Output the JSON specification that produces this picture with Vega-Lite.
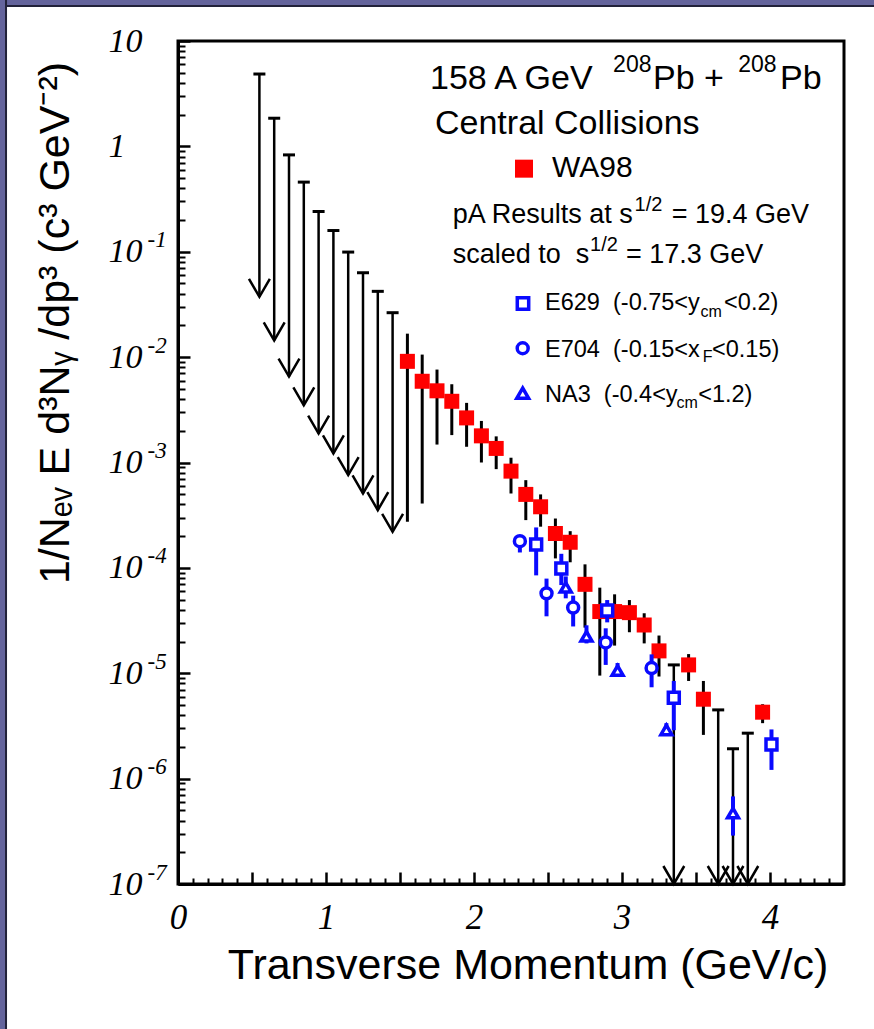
{
"$schema":"https://vega.github.io/schema/vega-lite/v6.json",
"width":666,"height":843,
"autosize":{"type":"none"},
"padding":{"left":178,"top":41,"right":30,"bottom":145},
"background":"white",
"config":{"view":{"stroke":"black","strokeWidth":3},"axis":{"grid":false,"zindex":1},"font":"Liberation Sans"},
"datasets":{
"one":[{}],
"ul":[{"x":0.55,"top":4.86,"tip":0.0374},{"x":0.65,"top":1.85,"tip":0.0144},{"x":0.75,"top":0.83,"tip":0.00653},{"x":0.85,"top":0.458,"tip":0.00349},{"x":0.95,"top":0.241,"tip":0.00188},{"x":1.05,"top":0.159,"tip":0.00122},{"x":1.15,"top":0.0993,"tip":0.000759},{"x":1.25,"top":0.0632,"tip":0.000508},{"x":1.35,"top":0.0421,"tip":0.000353},{"x":1.45,"top":0.0264,"tip":0.00022},{"x":3.35,"top":1.2e-5,"tip":1e-7},{"x":3.65,"top":4.49e-6,"tip":1e-7},{"x":3.75,"top":1.92e-6,"tip":1e-7},{"x":3.85,"top":2.7e-6,"tip":1e-7}],
"wa98":[{"x":1.55,"y":0.00912,"lo":0.000274,"hi":0.0167},{"x":1.65,"y":0.0059,"lo":0.000408,"hi":0.01057},{"x":1.75,"y":0.00479,"lo":0.00148,"hi":0.00762},{"x":1.85,"y":0.00381,"lo":0.00182,"hi":0.00553},{"x":1.95,"y":0.00265,"lo":0.00141,"hi":0.00368},{"x":2.05,"y":0.00179,"lo":0.001,"hi":0.00248},{"x":2.15,"y":0.00136,"lo":0.000865,"hi":0.00177},{"x":2.25,"y":0.000828,"lo":0.000508,"hi":0.00111},{"x":2.35,"y":0.000498,"lo":0.000284,"hi":0.00068},{"x":2.45,"y":0.00038,"lo":0.000246,"hi":0.000498},{"x":2.55,"y":0.000212,"lo":0.000123,"hi":0.000294},{"x":2.65,"y":0.000175,"lo":0.000113,"hi":0.000223},{"x":2.75,"y":6.98e-5,"lo":2.71e-5,"hi":0.000108},{"x":2.85,"y":3.85e-5,"lo":9.5e-6,"hi":6.49e-5},{"x":2.95,"y":3.85e-5,"lo":1.83e-5,"hi":5.61e-5},{"x":3.05,"y":3.76e-5,"lo":2.45e-5,"hi":4.95e-5},{"x":3.15,"y":2.87e-5,"lo":1.92e-5,"hi":3.71e-5},{"x":3.25,"y":1.63e-5,"lo":9.31e-6,"hi":2.28e-5},{"x":3.45,"y":1.2e-5,"lo":8.45e-6,"hi":1.52e-5},{"x":3.55,"y":5.67e-6,"lo":2.6e-6,"hi":8.45e-6},{"x":3.95,"y":4.27e-6,"lo":3.36e-6,"hi":5.08e-6}],
"pa":[{"exp":"E704","x":2.31,"y":1.79e-4,"lo":1.4e-4,"hi":2.0e-4},{"exp":"E629","x":2.42,"y":1.67e-4,"lo":8.49e-5,"hi":2.42e-4},{"exp":"E704","x":2.49,"y":5.73e-5,"lo":3.47e-5,"hi":7.91e-5},{"exp":"E629","x":2.59,"y":9.88e-5,"lo":6.87e-5,"hi":1.36e-4},{"exp":"NA3","x":2.62,"y":6.53e-5,"lo":5.14e-5,"hi":8.3e-5},{"exp":"E704","x":2.67,"y":4.2e-5,"lo":2.78e-5,"hi":5.45e-5},{"exp":"NA3","x":2.76,"y":2.24e-5,"lo":1.92e-5,"hi":2.85e-5},{"exp":"E629","x":2.9,"y":3.94e-5,"lo":3.04e-5,"hi":4.95e-5},{"exp":"E704","x":2.89,"y":1.96e-5,"lo":1.2e-5,"hi":2.67e-5},{"exp":"NA3","x":2.97,"y":1.06e-5,"lo":9.4e-6,"hi":1.25e-5},{"exp":"E704","x":3.2,"y":1.12e-5,"lo":7.36e-6,"hi":1.51e-5},{"exp":"E629","x":3.35,"y":5.86e-6,"lo":2.88e-6,"hi":8.45e-6},{"exp":"NA3","x":3.3,"y":2.9e-6,"lo":2.58e-6,"hi":3.36e-6},{"exp":"NA3","x":3.75,"y":4.71e-7,"lo":2.88e-7,"hi":6.78e-7},{"exp":"E629","x":4.01,"y":2.11e-6,"lo":1.21e-6,"hi":2.93e-6}]
},
"layer":[
{"data":{"name":"one"},"mark":{"type":"rect","fill":"#64649c","stroke":"#22223a","strokeWidth":2,"clip":false},
 "encoding":{"x":{"datum":-1.3,"type":"quantitative","axis":null},"x2":{"datum":4.9},"y":{"datum":40,"type":"quantitative","axis":null},"y2":{"datum":21.5}}},
{"data":{"name":"one"},"mark":{"type":"rect","fill":"#64649c","stroke":"#22223a","strokeWidth":2,"clip":false},
 "encoding":{"x":{"datum":-1.3,"type":"quantitative","axis":null},"x2":{"datum":-1.162},"y":{"datum":40,"type":"quantitative","axis":null},"y2":{"datum":1e-9}}},
{"data":{"name":"wa98"},"mark":{"type":"point","opacity":0},
 "encoding":{"x":{"field":"x","type":"quantitative","axis":null},
  "y":{"field":"y","type":"quantitative","axis":{"orient":"left","values":[1e-7,1e-6,1e-5,1e-4,0.001,0.01,0.1],"ticks":false,"tickSize":0,"domain":false,"labelExpr":"'-' + (-round(log(datum.value)/LN10))","labelFont":"Liberation Serif","labelFontStyle":"italic","labelFontSize":23,"labelColor":"black","labelAlign":"left","labelBaseline":"middle","labelPadding":31,"labelOffset":-12,"labelOverlap":false,"labelFlush":false,"title":null,"grid":false}}}},
{"data":{"name":"wa98"},"mark":{"type":"rule","color":"black","strokeWidth":3},
 "encoding":{
  "x":{"field":"x","type":"quantitative","scale":{"domain":[0,4.5],"nice":false,"zero":false},
   "axis":{"orient":"bottom","values":[0.1,0.2,0.3,0.4,0.6,0.7,0.8,0.9,1.1,1.2,1.3,1.4,1.6,1.7,1.8,1.9,2.1,2.2,2.3,2.4,2.6,2.7,2.8,2.9,3.1,3.2,3.3,3.4,3.6,3.7,3.8,3.9,4.1,4.2,4.3,4.4],"tickSize":-6,"tickWidth":2,"tickColor":"black","labels":false,"domain":false,"title":null,"grid":false}},
  "y":{"field":"lo","type":"quantitative","scale":{"type":"log","domain":[1e-7,10],"nice":false},
   "axis":{"orient":"left","values":[2e-7,3e-7,4e-7,5e-7,6e-7,7e-7,8e-7,9e-7,2e-6,3e-6,4e-6,5e-6,6e-6,7e-6,8e-6,9e-6,2e-5,3e-5,4e-5,5e-5,6e-5,7e-5,8e-5,9e-5,2e-4,3e-4,4e-4,5e-4,6e-4,7e-4,8e-4,9e-4,0.002,0.003,0.004,0.005,0.006,0.007,0.008,0.009,0.02,0.03,0.04,0.05,0.06,0.07,0.08,0.09,0.2,0.3,0.4,0.5,0.6,0.7,0.8,0.9,2,3,4,5,6,7,8,9],"tickSize":-7,"tickWidth":2,"tickColor":"black","labels":false,"domain":false,"title":null,"grid":false}},
  "y2":{"field":"hi"}}},
{"layer":[
 {"data":{"name":"ul"},"mark":{"type":"rule","color":"black","strokeWidth":2.5},
  "encoding":{
   "x":{"field":"x","type":"quantitative","scale":{"domain":[0,4.5],"nice":false,"zero":false},
    "axis":{"orient":"bottom","values":[0,0.5,1,1.5,2,2.5,3,3.5,4],"tickSize":-12,"tickWidth":2.5,"tickColor":"black","domain":true,"domainColor":"black","domainWidth":3,"labelExpr":"datum.value % 1 == 0 ? '' + datum.value : ''","labelFont":"Liberation Serif","labelFontStyle":"italic","labelFontSize":35,"labelColor":"black","labelPadding":28,"labelFlush":false,"labelOverlap":false,"title":"Transverse Momentum (GeV/c)","titleFont":"Liberation Sans","titleFontSize":43,"titleFontWeight":"normal","titleColor":"black","titleX":349.5,"titleY":94,"titleAlign":"center","titleBaseline":"alphabetic","grid":false}},
   "y":{"field":"top","type":"quantitative","scale":{"type":"log","domain":[1e-7,10],"nice":false},
    "axis":{"orient":"left","values":[1e-7,1e-6,1e-5,1e-4,0.001,0.01,0.1,1,10],"tickSize":-12,"tickWidth":2.5,"tickColor":"black","domain":true,"domainColor":"black","domainWidth":3,"labelExpr":"datum.value == 1 ? '1' : '10'","labelFont":"Liberation Serif","labelFontStyle":"italic","labelFontSize":34,"labelColor":"black","labelAlign":"left","labelBaseline":"middle","labelPadding":82,"labelOverlap":false,"labelFlush":false,"title":"1/Nₑᵥ E d³Nᵧ /dp³  (c³ GeV⁻²)","titleFont":"Liberation Sans","titleFontSize":43,"titleFontWeight":"normal","titleColor":"black","titleX":-110,"titleY":281.5,"titleAngle":270,"titleAlign":"center","titleBaseline":"alphabetic","grid":false}},
   "y2":{"field":"tip"}}},
 {"data":{"name":"ul"},"mark":{"type":"point","shape":"M-1,0L1,0","size":144,"filled":false,"stroke":"black","strokeWidth":3,"opacity":1},
  "encoding":{"x":{"field":"x","type":"quantitative"},"y":{"field":"top","type":"quantitative"}}},
 {"data":{"name":"ul"},"mark":{"type":"point","shape":"M-0.58,-1L0,0L0.58,-1","size":1296,"filled":false,"stroke":"black","strokeWidth":2.5,"opacity":1},
  "encoding":{"x":{"field":"x","type":"quantitative"},"y":{"field":"tip","type":"quantitative"}}},
 {"data":{"name":"wa98"},"mark":{"type":"point","shape":"square","size":225,"filled":true,"fill":"#ff0000","strokeWidth":0,"opacity":1},
  "encoding":{"x":{"field":"x","type":"quantitative"},"y":{"field":"y","type":"quantitative"}}},
 {"data":{"name":"pa"},"mark":{"type":"rule","color":"#0a0aff","strokeWidth":4},
  "encoding":{"x":{"field":"x","type":"quantitative"},"y":{"field":"lo","type":"quantitative"},"y2":{"field":"hi"}}},
 {"data":{"name":"pa"},"mark":{"type":"point","filled":true,"fill":"white","stroke":"#0a0aff","strokeWidth":3.5,"size":120,"opacity":1},
  "encoding":{"x":{"field":"x","type":"quantitative"},"y":{"field":"y","type":"quantitative"},
   "shape":{"field":"exp","type":"nominal","scale":{"domain":["E629","E704","NA3"],"range":["square","circle","triangle-up"]},"legend":null}}},
 {"data":{"name":"one"},"mark":{"type":"text","text":"158 A GeV","align":"left","baseline":"alphabetic","font":"Liberation Sans","fontSize":34,"color":"black"},"encoding":{"x":{"datum":1.7027},"y":{"datum":3.481}}},
 {"data":{"name":"one"},"mark":{"type":"text","text":"208","align":"left","baseline":"alphabetic","font":"Liberation Sans","fontSize":23,"color":"black"},"encoding":{"x":{"datum":2.94},"y":{"datum":5.112}}},
 {"data":{"name":"one"},"mark":{"type":"text","text":"Pb +","align":"left","baseline":"alphabetic","font":"Liberation Sans","fontSize":34,"color":"black"},"encoding":{"x":{"datum":3.2095},"y":{"datum":3.481}}},
 {"data":{"name":"one"},"mark":{"type":"text","text":"208","align":"left","baseline":"alphabetic","font":"Liberation Sans","fontSize":23,"color":"black"},"encoding":{"x":{"datum":3.785},"y":{"datum":5.112}}},
 {"data":{"name":"one"},"mark":{"type":"text","text":"Pb","align":"left","baseline":"alphabetic","font":"Liberation Sans","fontSize":34,"color":"black"},"encoding":{"x":{"datum":4.0676},"y":{"datum":3.481}}},
 {"data":{"name":"one"},"mark":{"type":"text","text":"Central Collisions","align":"left","baseline":"alphabetic","font":"Liberation Sans","fontSize":34,"color":"black"},"encoding":{"x":{"datum":1.7365},"y":{"datum":1.311}}},
 {"data":{"name":"one"},"mark":{"type":"point","shape":"square","size":324,"filled":true,"fill":"#ff0000","strokeWidth":0,"opacity":1},"encoding":{"x":{"datum":2.3378},"y":{"datum":0.6143}}},
 {"data":{"name":"one"},"mark":{"type":"text","text":"WA98","align":"left","baseline":"alphabetic","font":"Liberation Sans","fontSize":30,"color":"black"},"encoding":{"x":{"datum":2.527},"y":{"datum":0.516}}},
 {"data":{"name":"one"},"mark":{"type":"text","text":"pA Results at s","align":"left","baseline":"alphabetic","font":"Liberation Sans","fontSize":27,"color":"black"},"encoding":{"x":{"datum":1.856},"y":{"datum":0.1864}}},
 {"data":{"name":"one"},"mark":{"type":"text","text":"1/2","align":"left","baseline":"alphabetic","font":"Liberation Sans","fontSize":20,"color":"black"},"encoding":{"x":{"datum":3.085},"y":{"datum":0.2438}}},
 {"data":{"name":"one"},"mark":{"type":"text","text":"= 19.4 GeV","align":"left","baseline":"alphabetic","font":"Liberation Sans","fontSize":27,"color":"black"},"encoding":{"x":{"datum":3.336},"y":{"datum":0.1864}}},
 {"data":{"name":"one"},"mark":{"type":"text","text":"scaled to\u00a0\u00a0s","align":"left","baseline":"alphabetic","font":"Liberation Sans","fontSize":27,"color":"black"},"encoding":{"x":{"datum":1.856},"y":{"datum":0.07779}}},
 {"data":{"name":"one"},"mark":{"type":"text","text":"1/2","align":"left","baseline":"alphabetic","font":"Liberation Sans","fontSize":20,"color":"black"},"encoding":{"x":{"datum":2.784},"y":{"datum":0.1018}}},
 {"data":{"name":"one"},"mark":{"type":"text","text":"= 17.3 GeV","align":"left","baseline":"alphabetic","font":"Liberation Sans","fontSize":27,"color":"black"},"encoding":{"x":{"datum":3.027},"y":{"datum":0.07779}}},
 {"data":{"name":"one"},"mark":{"type":"point","shape":"square","size":130,"filled":true,"fill":"white","stroke":"#0a0aff","strokeWidth":3.5,"opacity":1},"encoding":{"x":{"datum":2.331},"y":{"datum":0.03232}}},
 {"data":{"name":"one"},"mark":{"type":"point","shape":"circle","size":120,"filled":true,"fill":"white","stroke":"#0a0aff","strokeWidth":3.5,"opacity":1},"encoding":{"x":{"datum":2.329},"y":{"datum":0.01214}}},
 {"data":{"name":"one"},"mark":{"type":"point","shape":"triangle-up","size":140,"filled":true,"fill":"white","stroke":"#0a0aff","strokeWidth":3.5,"opacity":1},"encoding":{"x":{"datum":2.329},"y":{"datum":0.004546}}},
 {"data":{"name":"one"},"mark":{"type":"text","text":"E629\u00a0\u00a0(-0.75<y","align":"left","baseline":"alphabetic","font":"Liberation Sans","fontSize":23.5,"color":"black"},"encoding":{"x":{"datum":2.48},"y":{"datum":0.02804}}},
 {"data":{"name":"one"},"mark":{"type":"text","text":"cm","align":"left","baseline":"alphabetic","font":"Liberation Sans","fontSize":16,"color":"black"},"encoding":{"x":{"datum":3.53},"y":{"datum":0.02423}}},
 {"data":{"name":"one"},"mark":{"type":"text","text":"<0.2)","align":"left","baseline":"alphabetic","font":"Liberation Sans","fontSize":23.5,"color":"black"},"encoding":{"x":{"datum":3.69},"y":{"datum":0.02804}}},
 {"data":{"name":"one"},"mark":{"type":"text","text":"E704\u00a0\u00a0(-0.15<x","align":"left","baseline":"alphabetic","font":"Liberation Sans","fontSize":23.5,"color":"black"},"encoding":{"x":{"datum":2.48},"y":{"datum":0.01011}}},
 {"data":{"name":"one"},"mark":{"type":"text","text":"F","align":"left","baseline":"alphabetic","font":"Liberation Sans","fontSize":16,"color":"black"},"encoding":{"x":{"datum":3.545},"y":{"datum":0.009005}}},
 {"data":{"name":"one"},"mark":{"type":"text","text":"<0.15)","align":"left","baseline":"alphabetic","font":"Liberation Sans","fontSize":23.5,"color":"black"},"encoding":{"x":{"datum":3.608},"y":{"datum":0.01011}}},
 {"data":{"name":"one"},"mark":{"type":"text","text":"NA3\u00a0\u00a0(-0.4<y","align":"left","baseline":"alphabetic","font":"Liberation Sans","fontSize":23.5,"color":"black"},"encoding":{"x":{"datum":2.48},"y":{"datum":0.003784}}},
 {"data":{"name":"one"},"mark":{"type":"text","text":"cm","align":"left","baseline":"alphabetic","font":"Liberation Sans","fontSize":16,"color":"black"},"encoding":{"x":{"datum":3.368},"y":{"datum":0.003296}}},
 {"data":{"name":"one"},"mark":{"type":"text","text":"<1.2)","align":"left","baseline":"alphabetic","font":"Liberation Sans","fontSize":23.5,"color":"black"},"encoding":{"x":{"datum":3.515},"y":{"datum":0.003784}}}
]}
],
"resolve":{"axis":{"x":"independent","y":"independent"}}
}
